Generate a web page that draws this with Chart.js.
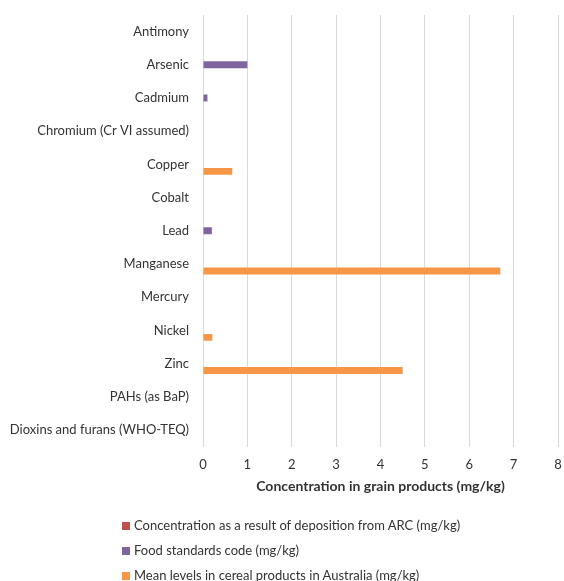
<!DOCTYPE html>
<html>
<head>
<meta charset="utf-8">
<script src="https://cdn.jsdelivr.net/npm/chart.js@4/dist/chart.umd.min.js"></script>
<style>
  html, body { margin: 0; padding: 0; background: #ffffff; }
  #wrap { position: relative; width: 564px; height: 581px; overflow: hidden; }
  #chart { position: absolute; left: 0; top: 0; }
  #legend { position: absolute; left: 122px; top: 514px; font-family: Lato, "Open Sans", sans-serif; font-size: 13px; color: #333333; }
  #legend .item { height: 25px; line-height: 22px; white-space: nowrap; }
  #legend .box { display: inline-block; width: 8px; height: 8px; margin-right: 4px; vertical-align: 0px; }
</style>
</head>
<body>
<div id="wrap">
  <canvas id="chart" width="564" height="581"></canvas>
  <div id="legend"></div>
</div>
<script>
// Elements and contaminants tested
const categories = [
  'Antimony', 'Arsenic', 'Cadmium', 'Chromium (Cr VI assumed)', 'Copper', 'Cobalt',
  'Lead', 'Manganese', 'Mercury', 'Nickel', 'Zinc', 'PAHs (as BaP)', 'Dioxins and furans (WHO-TEQ)'
];

// Concentration as a result of deposition (mg/kg) - negligible at this scale
const depositionValues = [0, 0, 0, 0, 0, 0, 0, 0, 0, 0, 0, 0, 0];

// Food standards code limits (mg/kg)
const foodStandardValues = [null, 1, 0.1, null, null, null, 0.2, null, null, null, null, null, null];

// Mean levels in cereal products in Australia (mg/kg)
const cerealMeanValues = [null, null, null, null, 0.66, null, null, 6.7, null, 0.21, 4.5, null, null];

const seriesNames = [
  'Concentration as a result of deposition from ARC (mg/kg)',
  'Food standards code (mg/kg)',
  'Mean levels in cereal products in Australia (mg/kg)'
];
const seriesColors = ['#C0504D', '#8064A2', '#F79646'];

const xTicks = [0, 1, 2, 3, 4, 5, 6, 7, 8];
const xTitle = 'Concentration in grain products (mg/kg)';

const FONT = 'Lato, "Open Sans", sans-serif';
const TEXT = '#333333';

const chart = new Chart(document.getElementById('chart'), {
  type: 'bar',
  data: {
    labels: categories,
    datasets: [depositionValues, foodStandardValues, cerealMeanValues].map((vals, i) => ({
      label: seriesNames[i],
      data: vals,
      backgroundColor: seriesColors[i],
      borderWidth: 0,
      barPercentage: 1,
      categoryPercentage: 0.63
    }))
  },
  options: {
    indexAxis: 'y',
    responsive: false,
    animation: false,
    layout: { padding: { top: 15, right: 6, bottom: 86, left: 0 } },
    plugins: {
      legend: { display: false },
      tooltip: { enabled: false }
    },
    scales: {
      x: {
        min: xTicks[0],
        max: xTicks[xTicks.length - 1],
        afterBuildTicks: (scale) => { scale.ticks = xTicks.map(v => ({ value: v })); },
        // invisible tick marks give the gap between plot and labels
        grid: { color: '#d9d9d9', lineWidth: 1, drawTicks: true, tickLength: 9, tickColor: 'rgba(0,0,0,0)' },
        border: { display: false },
        ticks: { color: TEXT, font: { family: FONT, size: 13 }, padding: 1 },
        title: {
          display: true,
          text: xTitle,
          color: TEXT,
          font: { family: FONT, size: 14, weight: 'bold' },
          padding: { top: 5, bottom: 0 }
        }
      },
      y: {
        grid: { display: false },
        border: { display: false },
        afterFit: (scale) => { scale.width = 203; },
        ticks: { color: TEXT, font: { family: FONT, size: 13 }, padding: 6 }
      }
    }
  }
});

// Legend listed in a single column under the chart
const legendEl = document.getElementById('legend');
chart.data.datasets.forEach(ds => {
  const row = document.createElement('div');
  row.className = 'item';
  const box = document.createElement('span');
  box.className = 'box';
  box.style.background = ds.backgroundColor;
  row.appendChild(box);
  row.appendChild(document.createTextNode(ds.label));
  legendEl.appendChild(row);
});
</script>
</body>
</html>
